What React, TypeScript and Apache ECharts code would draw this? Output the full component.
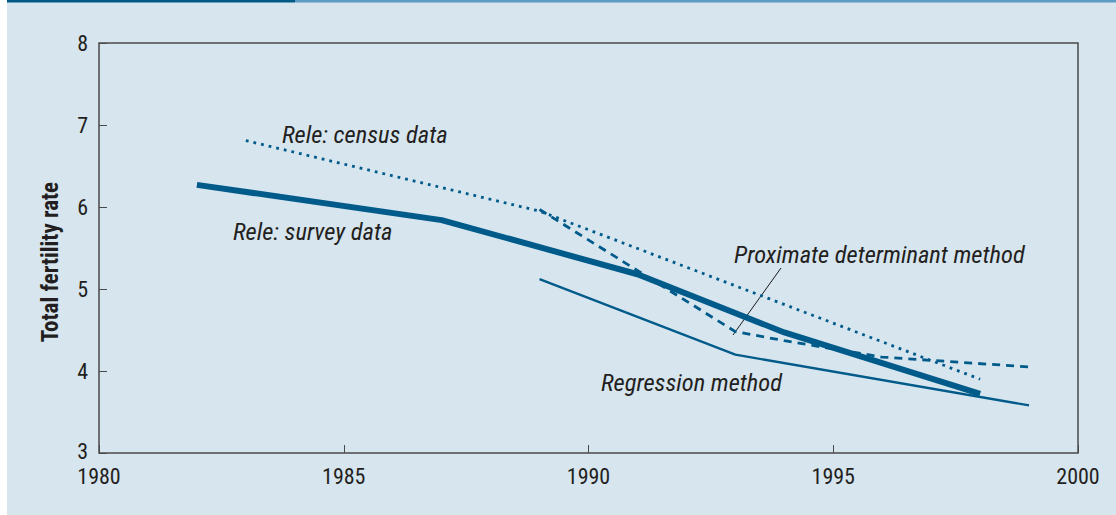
import React, { useEffect, useRef } from "react";
import * as echarts from "echarts";

const xMin = 1980;
const xMax = 2000;
const xInterval = 5;
const yMin = 3;
const yMax = 8;
const yInterval = 1;

const surveyYears = [1982, 1987, 1991, 1994, 1998];
const surveyValues = [6.27, 5.84, 5.18, 4.47, 3.72];

const censusYears = [1983, 1989, 1998];
const censusValues = [6.81, 5.95, 3.9];

const proximateYears = [1989, 1993, 1994, 1996, 1999];
const proximateValues = [5.97, 4.48, 4.37, 4.17, 4.05];

const regressionYears = [1989, 1993, 1999];
const regressionValues = [5.12, 4.2, 3.58];

const yAxisTitle = "Total fertility rate";
const labelCensus = "Rele: census data";
const labelSurvey = "Rele: survey data";
const labelProximate = "Proximate determinant method";
const labelRegression = "Regression method";

const LINE = "#005b8a";
const BG = "#d7e5ef";
const AXIS = "#4a4a4a";
const TEXT = "#231f20";
const FONT = "'Liberation Sans Narrow', 'Roboto Condensed', 'DejaVu Sans Condensed', 'Liberation Sans', sans-serif";

const pairs = (xs: number[], ys: number[]) => xs.map((x, i) => [x, ys[i]]);

export default function App() {
  const ref = useRef<HTMLDivElement>(null);
  useEffect(() => {
    const chart = echarts.init(ref.current!, null, { renderer: "svg" });
    chart.setOption({
      animation: false,
      backgroundColor: BG,
      grid: {
        left: 99,
        right: 38,
        top: 43,
        bottom: 62,
        show: true,
        borderColor: AXIS,
        borderWidth: 1.5,
        backgroundColor: "transparent",
      },
      xAxis: {
        type: "value",
        min: xMin,
        max: xMax,
        interval: xInterval,
        axisLine: { show: false },
        axisTick: { show: true, inside: true, length: 8, lineStyle: { color: AXIS, width: 1 } },
        splitLine: { show: false },
        axisLabel: {
          color: TEXT,
          fontFamily: FONT,
          fontSize: 22,
          margin: 12,
          formatter: (v: number) => String(v),
        },
      },
      yAxis: {
        type: "value",
        min: yMin,
        max: yMax,
        interval: yInterval,
        axisLine: { show: false },
        axisTick: { show: true, inside: true, length: 8, lineStyle: { color: AXIS, width: 1 } },
        splitLine: { show: false },
        axisLabel: {
          color: TEXT,
          fontFamily: FONT,
          fontSize: 22,
          margin: 11,
          formatter: (v: number) => (v === yMin ? `{low|${v}}` : String(v)),
          rich: {
            low: { fontFamily: FONT, fontSize: 22, color: TEXT, padding: [0, 0, 4, 0] },
          },
        },
      },
      series: [
        {
          type: "line",
          data: pairs(censusYears, censusValues),
          showSymbol: false,
          lineStyle: { color: LINE, width: 2.8, type: [2.8, 5] },
        },
        {
          type: "line",
          data: pairs(proximateYears, proximateValues),
          showSymbol: false,
          lineStyle: { color: LINE, width: 2.8, type: [8, 6] },
        },
        {
          type: "line",
          data: pairs(regressionYears, regressionValues),
          showSymbol: false,
          lineStyle: { color: LINE, width: 2.3 },
        },
        {
          type: "line",
          data: pairs(surveyYears, surveyValues),
          showSymbol: false,
          lineStyle: { color: LINE, width: 6 },
        },
      ],
      graphic: [
        { type: "rect", shape: { x: 0, y: 0, width: 7, height: 515 }, style: { fill: "#ffffff" }, silent: true },
        { type: "rect", shape: { x: 7, y: 0, width: 288, height: 2.5 }, style: { fill: "#005a87" }, silent: true },
        { type: "rect", shape: { x: 295, y: 0, width: 821, height: 2.5 }, style: { fill: "#5d9cc2" }, silent: true },
        {
          type: "text", x: 50, y: 262, rotation: Math.PI / 2,
          style: { text: yAxisTitle, fill: TEXT, font: `bold 23px ${FONT}`, align: "center", verticalAlign: "middle" },
        },
        {
          type: "text", x: 282, y: 134,
          style: { text: labelCensus, fill: TEXT, font: `italic 24.5px ${FONT}`, align: "left", verticalAlign: "middle" },
        },
        {
          type: "text", x: 233, y: 231,
          style: { text: labelSurvey, fill: TEXT, font: `italic 24.5px ${FONT}`, align: "left", verticalAlign: "middle" },
        },
        {
          type: "text", x: 734, y: 254,
          style: { text: labelProximate, fill: TEXT, font: `italic 24.5px ${FONT}`, align: "left", verticalAlign: "middle" },
        },
        {
          type: "text", x: 601, y: 382,
          style: { text: labelRegression, fill: TEXT, font: `italic 24.5px ${FONT}`, align: "left", verticalAlign: "middle" },
        },
        {
          type: "line", shape: { x1: 781, y1: 268, x2: 733, y2: 335 },
          style: { stroke: "#1a1a1a", lineWidth: 1 },
        },
      ],
    });
    return () => chart.dispose();
  }, []);
  return (
    <div
      ref={ref}
      style={{ position: "absolute", left: 0, top: 0, width: 1116, height: 515 }}
    />
  );
}
